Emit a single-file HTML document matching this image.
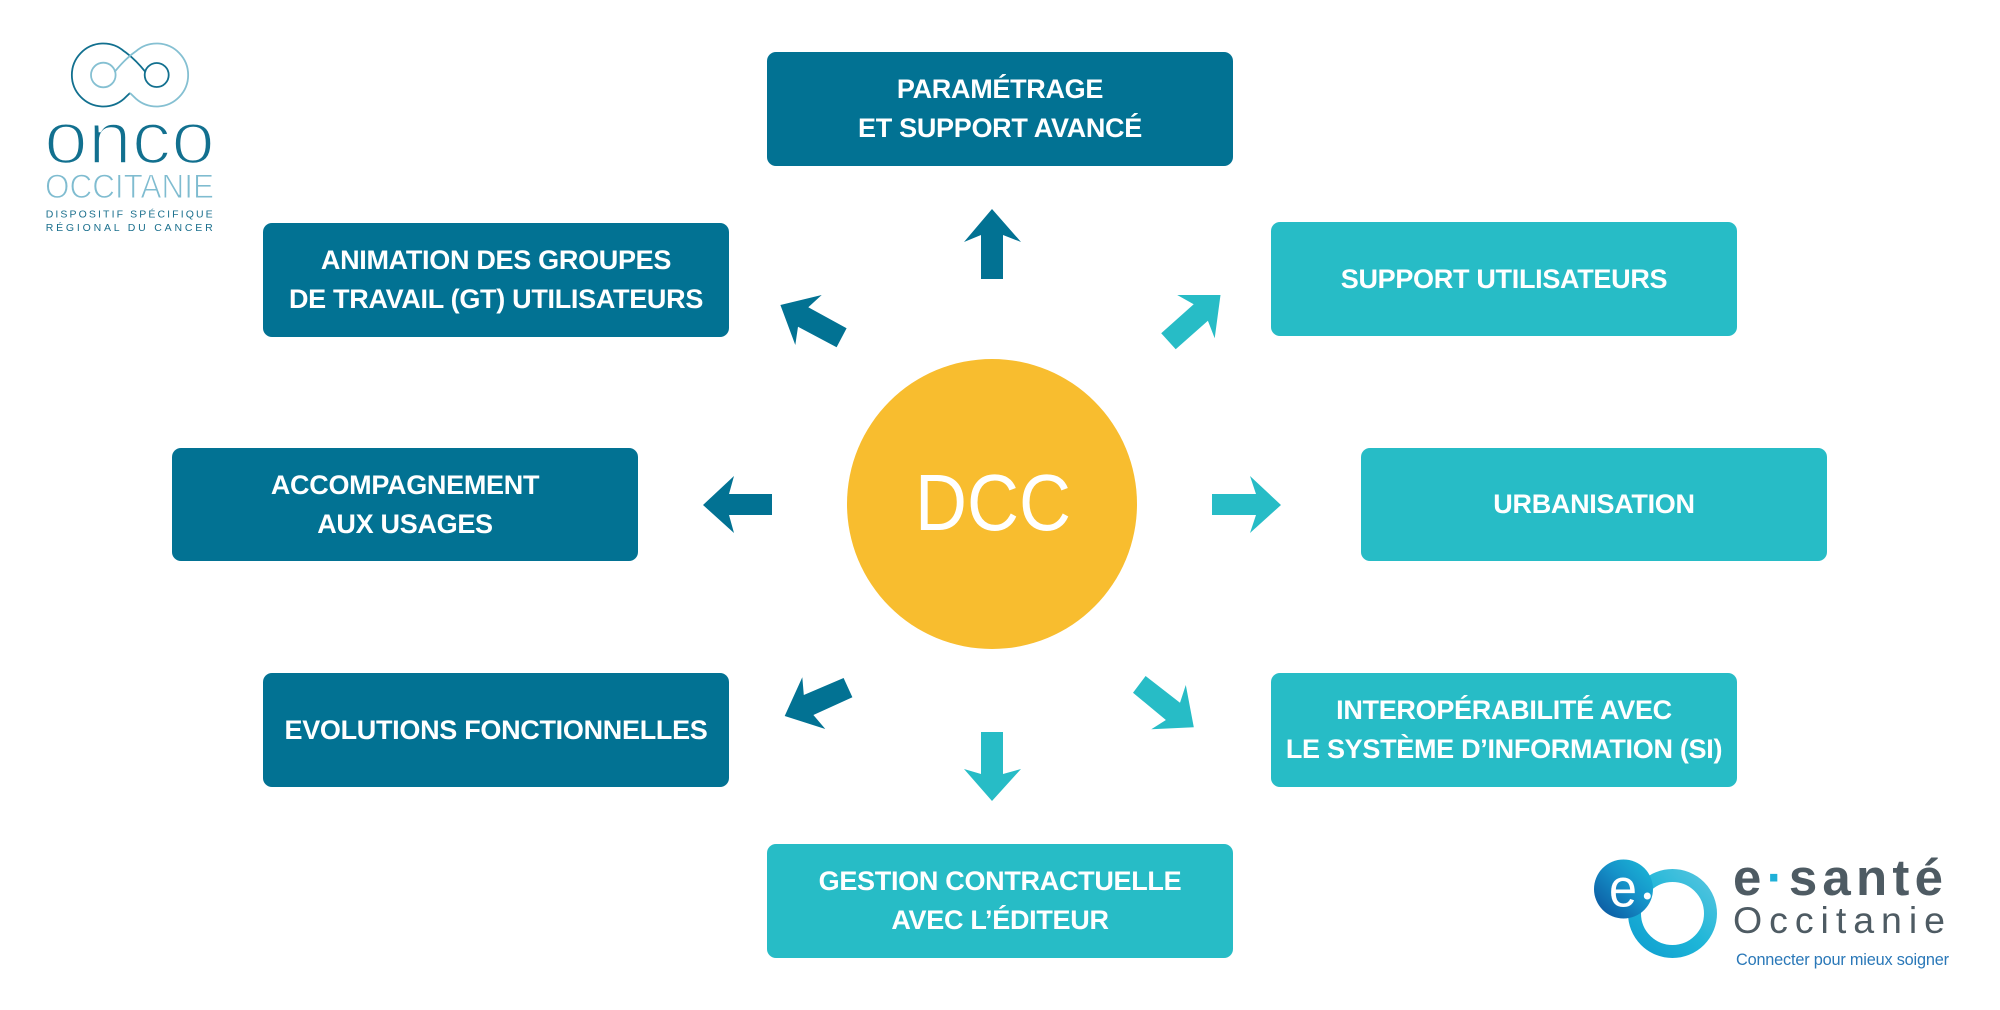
<!DOCTYPE html>
<html>
<head>
<meta charset="utf-8">
<style>
  html,body{margin:0;padding:0;}
  body{width:2000px;height:1010px;position:relative;background:#fff;overflow:hidden;font-family:"Liberation Sans",sans-serif;}
  .box{position:absolute;width:466px;height:114px;border-radius:9px;display:flex;align-items:center;justify-content:center;text-align:center;color:#fff;font-weight:bold;font-size:27px;line-height:39px;letter-spacing:-0.3px;}
  .dk{background:#027293;}
  .tl{background:#27bcc6;}
  svg{position:absolute;left:0;top:0;}
</style>
</head>
<body>
<svg width="2000" height="1010" viewBox="0 0 2000 1010" xmlns="http://www.w3.org/2000/svg">
  <defs>
    <linearGradient id="gFill" x1="0" y1="1" x2="1" y2="0">
      <stop offset="0" stop-color="#0a4f9a"/>
      <stop offset="0.55" stop-color="#1591c8"/>
      <stop offset="1" stop-color="#1cbbd9"/>
    </linearGradient>
    <linearGradient id="gRing" x1="0" y1="1" x2="1" y2="0">
      <stop offset="0" stop-color="#0f9fd0"/>
      <stop offset="0.5" stop-color="#1fb6d8"/>
      <stop offset="1" stop-color="#55c5df"/>
    </linearGradient>
  </defs>

  <!-- central circle -->
  <circle cx="992" cy="504" r="145" fill="#f8bd2f"/>
  <text x="993" y="530" text-anchor="middle" font-family="Liberation Sans, sans-serif" font-size="80" fill="#fff" textLength="156" lengthAdjust="spacingAndGlyphs">DCC</text>

  <!-- arrows dark -->
  <polygon fill="#027293" points="992,209 1021,242 1003,235 1003,279 981,279 981,235 964,242"/>
  <polygon fill="#027293" points="703,505 734,476 729,494 772,494 772,515 729,515 734,533"/>
  <polygon fill="#027293" points="780.4,305 821.7,295 808.3,307.3 846.6,328.3 836.6,347.3 798,326.7 795.3,345"/>
  <polygon fill="#027293" points="784.7,716 802.3,677.3 803.8,695 843.6,678 852.4,697.3 813.4,715 825.3,729"/>
  <!-- arrows teal -->
  <polygon fill="#27bcc6" points="1281,505 1250,476 1256,494 1212,494 1212,515 1256,515 1250,533"/>
  <polygon fill="#27bcc6" points="992,801 1021,769 1003,774 1003,732 981,732 981,774 964,769"/>
  <polygon fill="#27bcc6" points="1220.5,295 1177.2,295 1193.7,304.3 1161.2,333.3 1175.7,349.3 1207.9,320.7 1214.7,338.3"/>
  <polygon fill="#27bcc6" points="1145.6,676 1180,702.7 1185.8,685 1193.8,727.3 1151.3,729.3 1165.9,720 1133,692.7"/>

  <!-- ONCO OCCITANIE logo -->
  <g fill="none" stroke-width="1.8">
    <path d="M145.5,72 C139,64 131,56 124.1,51.3 A31.5,31.5 0 1 0 124.1,98.7 L130,93" stroke="#12708f"/>
    <path d="M114.5,72 C121,64 129,56 135.9,51.3 A31.5,31.5 0 1 1 135.9,98.7 L130,93" stroke="#85c0d2"/>
    <circle cx="103.3" cy="75" r="12.3" stroke="#85c0d2"/>
    <circle cx="156.7" cy="75" r="12" stroke="#12708f"/>
  </g>
  <text x="44" y="163.3" font-family="Liberation Sans, sans-serif" font-size="74" fill="#12708f" stroke="#fff" stroke-width="2.6" textLength="171" lengthAdjust="spacingAndGlyphs">onco</text>
  <text x="45" y="198" font-family="Liberation Sans, sans-serif" font-size="34" fill="#7fbcd0" stroke="#fff" stroke-width="1" textLength="169" lengthAdjust="spacingAndGlyphs">OCCITANIE</text>
  <text x="45.7" y="217.7" font-family="Liberation Sans, sans-serif" font-size="10.5" fill="#1a6f8d" textLength="167" lengthAdjust="spacing">DISPOSITIF SPÉCIFIQUE</text>
  <text x="45.7" y="231" font-family="Liberation Sans, sans-serif" font-size="10.5" fill="#1a6f8d" textLength="167" lengthAdjust="spacing">RÉGIONAL DU CANCER</text>

  <!-- e-santé logo -->
  <circle cx="1672.5" cy="913.5" r="38" fill="none" stroke="url(#gRing)" stroke-width="13"/>
  <circle cx="1623.5" cy="889" r="29.5" fill="url(#gFill)"/>
  <text x="1609" y="906.7" font-family="Liberation Sans, sans-serif" font-size="54" fill="#fff" textLength="28" lengthAdjust="spacingAndGlyphs">e</text>
  <circle cx="1647.3" cy="896" r="3.5" fill="#fff"/>
  <text x="1733" y="895" font-family="Liberation Sans, sans-serif" font-size="51" font-weight="bold" fill="#4e5b63" textLength="210" lengthAdjust="spacing">e<tspan fill="#1fb0d8">·</tspan>santé</text>
  <text x="1733" y="933" font-family="Liberation Sans, sans-serif" font-size="37.5" fill="#4e5b63" textLength="212" lengthAdjust="spacing">Occitanie</text>
  <text x="1736" y="965" font-family="Liberation Sans, sans-serif" font-size="16.3" fill="#2a78b8" textLength="213" lengthAdjust="spacing">Connecter pour mieux soigner</text>
</svg>

<div class="box dk" style="left:767px;top:52px;">PARAMÉTRAGE<br>ET SUPPORT AVANCÉ</div>
<div class="box dk" style="left:263px;top:223px;">ANIMATION DES GROUPES<br>DE TRAVAIL (GT) UTILISATEURS</div>
<div class="box tl" style="left:1271px;top:222px;">SUPPORT UTILISATEURS</div>
<div class="box dk" style="left:172px;top:448px;height:113px;">ACCOMPAGNEMENT<br>AUX USAGES</div>
<div class="box tl" style="left:1361px;top:448px;height:113px;">URBANISATION</div>
<div class="box dk" style="left:263px;top:673px;">EVOLUTIONS FONCTIONNELLES</div>
<div class="box tl" style="left:1271px;top:673px;">INTEROPÉRABILITÉ AVEC<br>LE SYSTÈME D’INFORMATION (SI)</div>
<div class="box tl" style="left:767px;top:844px;">GESTION CONTRACTUELLE<br>AVEC L’ÉDITEUR</div>
</body>
</html>
